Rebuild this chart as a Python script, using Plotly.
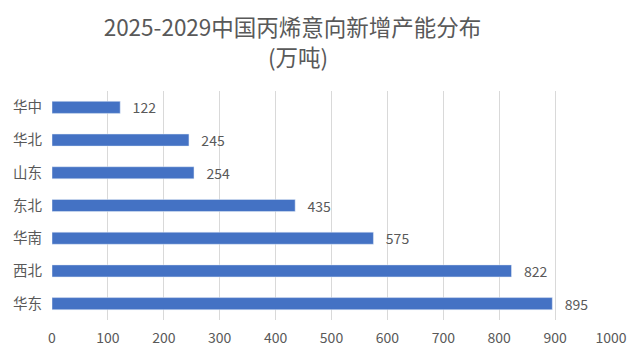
import plotly.graph_objects as go

categories = ["华东", "西北", "华南", "东北", "山东", "华北", "华中"]
values = [895, 822, 575, 435, 254, 245, 122]
x_ticks = [0, 100, 200, 300, 400, 500, 600, 700, 800, 900, 1000]
title_line1 = "2025-2029中国丙烯意向新增产能分布"
title_line2 = "(万吨)"

font_family = "Noto Sans CJK SC, Noto Sans, sans-serif"
grey = "#595959"

W, H = 628, 352
ML, MR, MT, MB = 44, 25, 83, 40
plot_w = W - ML - MR
plot_h = H - MT - MB

fig = go.Figure(go.Bar(
    y=categories, x=values, orientation="h",
    marker_color="#4472C4",
    text=["   " + str(v) for v in values], textposition="outside",
    constraintext="none",
    textfont=dict(size=14, color=grey, family=font_family),
    cliponaxis=False,
))

fig.add_annotation(text=title_line2, xref="paper", yref="paper",
                   x=(298 - 8 - ML) / plot_w, y=(H - MB - 48) / plot_h,
                   xanchor="center", yanchor="middle", showarrow=False,
                   font=dict(size=22.5, color=grey, family=font_family))

fig.update_layout(
    width=W, height=H,
    margin=dict(l=ML, r=MR, t=MT, b=MB),
    paper_bgcolor="white", plot_bgcolor="white",
    bargap=0.63,
    showlegend=False,
    font=dict(family=font_family, color=grey, size=14),
    title=dict(text=title_line1, x=(292.5 - 8) / W, xanchor="center", xref="container",
               y=1 - 20 / H, yanchor="middle", yref="container",
               font=dict(size=22.5, color=grey, family=font_family)),
    xaxis=dict(range=[0, 1000], tickvals=x_ticks, showgrid=True,
               gridcolor="#D9D9D9", gridwidth=1, zeroline=False,
               showline=False, ticks="", automargin=False,
               ticklabelstandoff=8,
               tickfont=dict(size=14, color=grey)),
    yaxis=dict(categoryorder="array", categoryarray=categories,
               showgrid=False, showline=False, ticks="", automargin=False,
               ticklabelstandoff=9,
               tickfont=dict(size=14.5, color=grey)),
)

fig.write_html("out.html")
